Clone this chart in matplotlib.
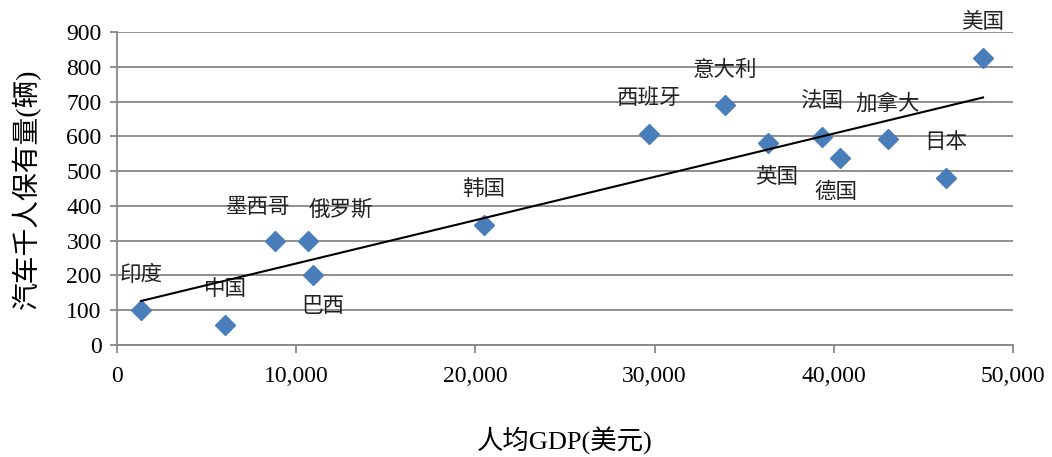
import matplotlib.pyplot as plt
import numpy as np

plt.rcParams['font.family'] = ['Liberation Serif', 'Noto Sans CJK SC']

countries = ['印度', '中国', '墨西哥', '俄罗斯', '巴西', '韩国', '西班牙',
             '意大利', '英国', '法国', '德国', '加拿大', '日本', '美国']
gdp = [1340, 6030, 8820, 10660, 10940, 20480, 29690,
       33930, 36330, 39340, 40350, 43030, 46260, 48330]
cars = [100, 58, 300, 300, 200, 345, 607,
        690, 581, 598, 538, 592, 480, 825]

# label offsets in points (dx, dy)
offsets = {'墨西哥': (-12, 23), '俄罗斯': (24, 22), '巴西': (7, -23),
           '英国': (6, -25), '德国': (-3, -25)}

fig = plt.figure(figsize=(10.52, 4.57), dpi=100)
ax = fig.add_axes([0.1112, 0.2451, 0.8517, 0.6849])

grey = '#878787'
ax.set_axisbelow(True)
ax.yaxis.grid(True, color=grey, linewidth=1.3)

ax.plot(gdp, cars, linestyle='none', marker='D', markersize=10.5,
        color='#4a7ebb', zorder=3)

# linear trend line across the data range
k, b = np.polyfit(gdp, cars, 1)
xs = np.array([min(gdp), max(gdp)])
ax.plot(xs, k * xs + b, color='black', linewidth=1.5, zorder=4)

for name, x, y in zip(countries, gdp, cars):
    dx, dy = offsets.get(name, (0, 25))
    ax.annotate(name, (x, y), xytext=(dx, dy), textcoords='offset points',
                ha='center', va='center', fontsize=15.5, color='#222222')

ax.set_xlim(0, 50000)
ax.set_ylim(0, 900)
ax.set_xticks(range(0, 50001, 10000))
ax.set_xticklabels([f'{v:,}' for v in range(0, 50001, 10000)])
ax.set_yticks(range(0, 901, 100))

for side in ['top', 'right']:
    ax.spines[side].set_visible(False)
for side in ['left', 'bottom']:
    ax.spines[side].set_color(grey)
    ax.spines[side].set_linewidth(1.3)

ax.tick_params(axis='x', length=6, width=1.3, color=grey, pad=9, labelsize=17)
ax.tick_params(axis='y', length=5, width=1.3, color=grey, pad=6, labelsize=17)

ax.set_xlabel('人均GDP(美元)', fontsize=19, labelpad=29)
ax.set_ylabel('汽车千人保有量(辆)', fontsize=20, labelpad=18)

fig.savefig('out.png', dpi=100)
